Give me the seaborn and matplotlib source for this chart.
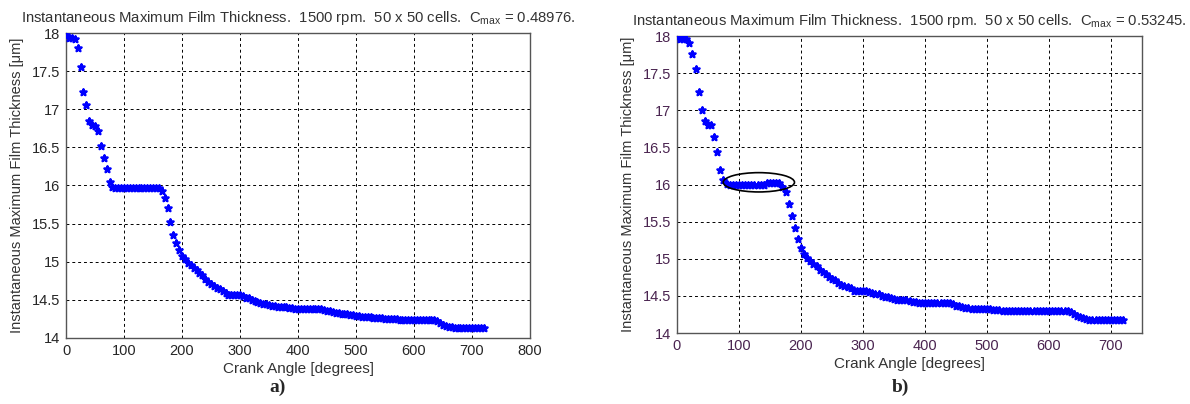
import numpy as np
import pandas as pd
import matplotlib
matplotlib.use("Agg")
import matplotlib.pyplot as plt
from matplotlib.patches import Ellipse
import seaborn as sns

# crank angle sampled every 5 degrees (0 .. 720)
crank_angle = list(range(0, 725, 5))

# panel a) values (micrometres)
thickness_a = [
    17.98, 17.94, 17.93, 17.92, 17.80, 17.55, 17.22, 17.05, 16.85, 16.79,
    16.78, 16.72, 16.52, 16.36, 16.22, 16.05, 15.98, 15.97, 15.97, 15.97,
    15.97, 15.97, 15.97, 15.97, 15.97, 15.97, 15.97, 15.97, 15.97, 15.97,
    15.97, 15.97, 15.97, 15.93, 15.83, 15.70, 15.52, 15.35, 15.25, 15.16,
    15.07, 15.03, 14.99, 14.96, 14.92, 14.89, 14.85, 14.82, 14.77, 14.74,
    14.71, 14.68, 14.65, 14.64, 14.62, 14.59, 14.57, 14.57, 14.57, 14.57,
    14.57, 14.55, 14.53, 14.52, 14.50, 14.48, 14.47, 14.46, 14.45, 14.44,
    14.43, 14.42, 14.42, 14.41, 14.41, 14.40, 14.40, 14.39, 14.39, 14.38,
    14.38, 14.38, 14.38, 14.38, 14.38, 14.38, 14.38, 14.38, 14.38, 14.37,
    14.36, 14.35, 14.34, 14.33, 14.33, 14.32, 14.32, 14.31, 14.30, 14.30,
    14.29, 14.29, 14.28, 14.28, 14.27, 14.27, 14.26, 14.26, 14.26, 14.26,
    14.25, 14.25, 14.25, 14.25, 14.25, 14.24, 14.24, 14.24, 14.24, 14.24,
    14.24, 14.24, 14.24, 14.24, 14.24, 14.24, 14.24, 14.24, 14.22, 14.19,
    14.17, 14.16, 14.15, 14.14, 14.13, 14.13, 14.13, 14.13, 14.13, 14.13,
    14.13, 14.13, 14.13, 14.13, 14.13,
]

# panel b) values (micrometres)
thickness_b = [
    17.99, 17.96, 17.96, 17.96, 17.90, 17.76, 17.55, 17.25, 17.00, 16.86,
    16.80, 16.80, 16.64, 16.44, 16.19, 16.06, 16.01, 16.00, 15.99, 15.99,
    15.99, 15.99, 15.99, 15.99, 15.99, 15.99, 15.99, 15.99, 15.99, 16.02,
    16.02, 16.02, 16.02, 16.02, 15.97, 15.90, 15.74, 15.58, 15.41, 15.27,
    15.14, 15.06, 15.01, 14.97, 14.93, 14.90, 14.85, 14.82, 14.79, 14.76,
    14.73, 14.71, 14.68, 14.65, 14.63, 14.62, 14.60, 14.57, 14.57, 14.57,
    14.57, 14.56, 14.55, 14.54, 14.53, 14.52, 14.50, 14.49, 14.48, 14.47,
    14.46, 14.45, 14.45, 14.44, 14.44, 14.43, 14.42, 14.42, 14.41, 14.41,
    14.40, 14.40, 14.40, 14.40, 14.40, 14.40, 14.40, 14.40, 14.40, 14.39,
    14.37, 14.36, 14.35, 14.34, 14.34, 14.33, 14.33, 14.33, 14.32, 14.32,
    14.32, 14.32, 14.31, 14.31, 14.31, 14.30, 14.30, 14.30, 14.30, 14.29,
    14.29, 14.29, 14.29, 14.29, 14.29, 14.29, 14.29, 14.29, 14.29, 14.29,
    14.29, 14.29, 14.29, 14.29, 14.29, 14.29, 14.29, 14.28, 14.25, 14.23,
    14.21, 14.20, 14.19, 14.18, 14.17, 14.17, 14.17, 14.17, 14.17, 14.17,
    14.17, 14.17, 14.17, 14.17, 14.17,
]

c_max = ["0.48976", "0.53245"]
panel_tags = ["a)", "b)"]
xlims = [800, 750]
xticks = [list(range(0, 900, 100)), list(range(0, 800, 100))]
yticks = [14, 14.5, 15, 15.5, 16, 16.5, 17, 17.5, 18]
ytick_labels = ["14", "14.5", "15", "15.5", "16", "16.5", "17", "17.5", "18"]

# =========================== STYLE ===========================
sns.set_style("white")
plt.rcParams["font.family"] = ["Liberation Sans", "DejaVu Sans"]
plt.rcParams["mathtext.fontset"] = "custom"
plt.rcParams["mathtext.rm"] = "Liberation Sans"
plt.rcParams["mathtext.it"] = "Liberation Sans"

fig = plt.figure(figsize=(11.9, 4.04), dpi=100)
axes = [
    fig.add_axes([0.0555, 0.1634, 0.3899, 0.7549]),
    fig.add_axes([0.5689, 0.1757, 0.3908, 0.7351]),
]
tick_colors = ["#262626", "#4a2450"]
tag_x = [0.233, 0.757]

for i, (ax, values) in enumerate(zip(axes, [thickness_a, thickness_b])):
    df = pd.DataFrame({"angle": crank_angle, "thickness": values})
    sns.scatterplot(data=df, x="angle", y="thickness", ax=ax, marker="*",
                    s=24, color="#0000ff", edgecolor="#0000ff", linewidth=1.6,
                    zorder=3, legend=False)

    ax.set_xlim(0, xlims[i])
    ax.set_ylim(14, 18)
    ax.set_xticks(xticks[i])
    ax.set_yticks(yticks)
    ax.set_yticklabels(ytick_labels)
    ax.tick_params(direction="in", length=4, width=0.8, labelsize=10.5,
                   colors="#333333", labelcolor=tick_colors[i], pad=4)
    ax.grid(True, color="black", linestyle=(0, (3, 3)), linewidth=0.7)
    ax.set_axisbelow(True)
    for sp in ax.spines.values():
        sp.set_color("#555555")
        sp.set_linewidth(1.0)

    ax.set_xlabel("Crank Angle [degrees]", fontsize=11, color="#333333", labelpad=3)
    ax.set_ylabel("Instantaneous Maximum Film Thickness [\u03bcm]", fontsize=10.5,
                  color="#333333", labelpad=6)
    ax.set_title("Instantaneous Maximum Film Thickness.  1500 rpm.  50 x 50 cells.  "
                 + r"C$_{\mathrm{max}}$" + f" = {c_max[i]}.",
                 fontsize=10.7, color="#333333", pad=8)

    fig.text(tag_x[i], 0.03, panel_tags[i], family=["Liberation Serif", "DejaVu Serif"],
             fontsize=14, fontweight="bold", ha="center", va="baseline")

# circled plateau on panel b)
axes[1].add_patch(Ellipse((132, 16.03), 115, 0.26, fill=False, edgecolor="black",
                          linewidth=1.2, zorder=4))

fig.savefig("out.png", dpi=100)
